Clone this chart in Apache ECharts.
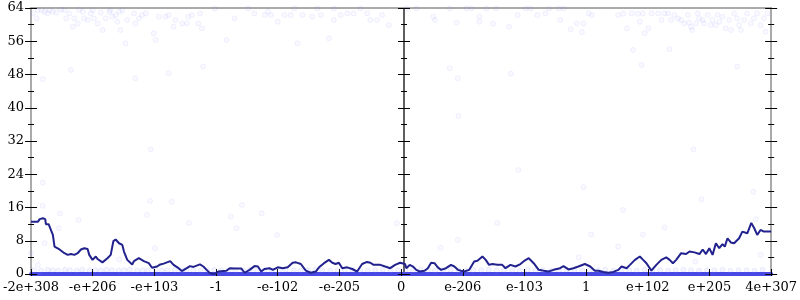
<!DOCTYPE html>
<html><head><meta charset="utf-8">
<script src="https://cdn.jsdelivr.net/npm/echarts@6/dist/echarts.min.js"></script>
<style>html,body{margin:0;padding:0;background:#fff}#c{width:800px;height:300px}</style>
</head><body><div id="c"></div>
<script>
// x positions are in tick-slot units (0..12), one unit per tick label
const tickLabels = ['-2e+308','-e+206','-e+103','-1','-e-102','-e-205','0','e-206','e-103','1','e+102','e+205','4e+307'];
const yTicks = [0,8,16,24,32,40,48,56,64];

const lineX = [0,0.113,0.140,0.166,0.193,0.230,0.241,0.285,0.317,0.354,0.381,0.462,0.542,0.595,0.648,0.703,0.756,0.809,0.864,0.917,0.944,0.997,1.050,1.078,1.158,1.239,1.292,1.335,1.372,1.427,1.480,1.507,1.560,1.641,1.668,1.748,1.829,1.909,1.962,2.043,2.096,2.151,2.257,2.311,2.392,2.445,2.525,2.578,2.633,2.739,2.794,2.847,2.900,2.976,3.035,3.169,3.222,3.302,3.410,3.463,3.544,3.624,3.679,3.732,3.785,3.865,3.920,4.000,4.081,4.161,4.242,4.295,4.375,4.455,4.536,4.616,4.670,4.750,4.830,4.885,4.938,4.991,5.046,5.126,5.207,5.287,5.368,5.448,5.501,5.528,5.554,5.662,5.742,5.823,5.903,5.984,6.064,6.085,6.140,6.193,6.246,6.300,6.381,6.434,6.487,6.542,6.595,6.648,6.728,6.809,6.863,6.921,6.970,7.024,7.105,7.185,7.238,7.319,7.372,7.426,7.480,7.560,7.640,7.693,7.774,7.854,7.935,8.010,8.070,8.150,8.231,8.311,8.392,8.472,8.578,8.633,8.713,8.794,8.874,8.980,9.067,9.141,9.200,9.281,9.361,9.442,9.522,9.575,9.656,9.711,9.791,9.871,9.924,9.978,10.058,10.138,10.219,10.299,10.354,10.407,10.460,10.541,10.621,10.676,10.756,10.837,10.890,10.943,10.997,11.050,11.104,11.158,11.211,11.248,11.292,11.345,11.399,11.480,11.533,11.613,11.678,11.726,11.774,11.827,11.882,12.0];
const lineY = [12.6,12.6,13.2,13.0,13.4,13.2,12.0,12.0,11.6,9.4,6.6,5.9,5.0,4.6,4.8,4.6,5.0,5.9,6.2,6.0,4.6,3.4,4.2,3.6,2.8,3.8,4.6,7.9,8.3,7.4,7.0,5.4,3.4,2.3,3.1,3.8,3.1,2.6,1.5,1.8,2.3,2.5,3.1,2.2,1.4,0.7,1.4,1.9,1.7,2.3,1.8,1.0,0.2,0.0,0.6,0.8,1.4,1.3,1.3,0.3,1.0,1.9,1.8,0.6,1.2,1.4,1.0,1.6,1.4,1.6,2.7,2.8,2.4,0.8,0.3,0.6,1.6,2.6,3.4,2.7,2.4,2.7,1.4,1.6,1.2,0.6,2.4,2.9,2.7,2.9,2.2,2.2,1.8,1.4,2.2,2.7,2.4,1.4,2.2,1.8,1.0,0.6,0.8,1.4,2.7,2.6,1.6,1.0,1.4,2.2,1.8,1.0,0.8,0.6,1.0,3.0,3.2,4.2,3.4,2.2,2.4,2.2,2.2,1.4,2.2,1.8,2.4,3.3,3.8,2.6,1.0,0.8,0.6,1.0,1.4,1.9,1.1,1.4,1.8,2.4,1.8,0.8,0.8,0.5,0.3,0.5,1.0,1.8,1.4,2.2,3.4,4.2,3.4,2.6,0.8,2.2,3.4,4.0,3.4,2.6,3.4,5.0,4.8,5.4,5.2,4.8,5.9,4.8,6.2,4.6,7.4,6.2,7.2,6.6,8.6,7.6,7.4,8.6,10.2,9.8,12.3,11.0,9.4,10.6,10.2,10.2];

const dotX = [0.03,0.09,0.17,0.22,0.27,0.35,0.41,0.49,0.57,0.62,0.68,0.70,0.76,0.84,0.86,0.92,0.97,1.02,1.08,1.13,1.16,1.21,1.27,1.32,1.37,1.40,1.43,1.45,1.48,1.53,1.56,1.67,1.69,1.75,1.80,1.86,1.99,2.02,2.07,2.18,2.23,2.31,2.34,2.45,2.53,2.55,2.61,2.71,2.74,2.77,2.79,3.17,3.30,3.62,3.79,3.84,3.89,4.00,4.11,4.21,4.32,4.40,4.56,4.70,4.83,4.91,5.02,5.13,5.23,5.45,5.50,5.61,5.69,5.80,
 0.11,0.30,0.54,0.78,1.00,1.29,2.98,3.52,4.27,4.64,4.91,5.34,0.65,0.19,1.69,2.23,
 6.09,6.25,6.52,6.55,6.79,6.90,7.06,7.14,7.27,7.27,7.38,7.49,7.54,7.75,7.89,8.02,8.10,8.21,8.34,8.40,8.56,8.58,8.64,8.75,8.85,8.93,8.96,9.04,9.09,9.52,9.60,9.66,9.74,9.76,9.84,9.87,9.92,9.95,10.01,10.06,10.17,10.22,10.27,10.33,10.35,10.38,10.43,10.49,10.54,10.59,10.65,10.67,10.70,10.72,10.78,10.81,10.83,10.89,10.91,10.97,11.02,11.05,11.10,11.13,11.16,11.21,11.26,11.32,11.35,11.40,11.45,11.48,11.51,11.56,11.61,11.67,11.72,11.77,11.83,11.88,11.91,11.94,
 11.45,6.79,6.92,7.78,9.90,
 0.19,0.19,0.47,0.77,0.45,0.22,0.11,0.0,1.93,2.28,1.88,2.01,1.43,2.56,3.42,3.24,3.74,3.33,3.99,5.93,
 8.96,9.60,7.56,6.92,6.64,9.08,9.92,9.52,8.88,10.27,10.87,11.71,11.75,11.83,10.77,
 1.94,6.93,7.90,10.74];
const dotY = [62.7,61.5,63.5,63.1,62.7,63.1,62.9,63.6,61.5,62.7,59.5,61.5,60.3,63.1,61.5,61.1,62.7,61.5,60.3,62.9,58.7,61.5,63.1,61.9,62.3,60.7,63.1,58.7,63.5,55.5,61.1,62.7,60.3,61.5,62.3,62.7,57.9,56.3,61.9,61.9,62.3,59.5,61.1,60.3,60.3,61.9,62.3,60.3,62.7,59.1,49.9,56.3,61.5,62.7,62.3,63.1,62.3,60.7,62.3,62.3,55.5,62.3,61.9,62.3,56.7,61.1,62.3,62.7,62.7,62.7,61.1,61.1,62.3,59.9,
 63.5,63.5,63.5,63.6,63.5,63.5,63.9,63.9,63.9,63.9,63.9,63.9,49.1,46.9,47.1,48.3,
 63.9,63.9,61.9,61.1,63.9,60.5,63.9,63.9,61.9,60.7,63.9,60.2,63.9,59.5,62.3,63.9,63.9,62.3,62.7,63.9,63.9,61.1,63.9,58.9,60.3,58.2,60.3,62.7,62.3,62.3,62.6,59.1,62.7,53.9,62.6,60.7,62.7,57.9,59.1,62.7,62.7,61.1,62.7,62.7,54.1,61.1,62.3,61.5,61.1,60.3,62.3,60.5,59.5,58.7,60.3,62.7,61.5,61.1,60.3,62.3,59.9,61.1,59.9,62.3,60.7,61.9,59.1,61.1,58.7,62.7,61.5,59.9,58.7,61.1,62.7,60.3,61.5,62.7,59.9,61.5,58.3,62.7,
 49.9,49.5,47.1,48.2,50.3,
 22.0,16.4,14.6,13.0,11.0,7.4,2.2,5.0,17.6,17.4,14.2,6.2,3.5,12.3,16.6,13.8,14.6,11.0,9.4,12.2,
 20.9,15.4,12.3,8.2,6.3,9.5,9.5,6.6,4.0,11.2,18.0,19.8,13.2,4.6,3.0,
 30.0,38.0,25.0,30.0];

const lowX = [0.05,0.16,0.27,0.35,0.44,0.55,0.63,0.74,0.83,0.95,1.04,1.13,1.22,1.31,1.42,1.51,1.60,1.72,1.81,1.90,2.02,2.12,2.21,2.33,2.44,2.52,2.63,2.75,2.86,2.97,3.08,3.20,3.31,3.44,3.55,3.66,3.78,3.90,4.02,4.13,4.26,4.37,4.49,4.61,4.72,4.85,4.97,5.09,5.21,5.34,5.46,5.58,5.70,5.83,5.95,
 6.07,6.19,6.32,6.44,6.55,6.68,6.80,6.93,7.05,7.17,7.30,7.42,7.55,7.67,7.80,7.92,8.05,8.18,8.30,8.43,8.56,8.68,8.81,8.94,9.06,9.19,9.31,9.44,9.57,9.70,9.82,9.95,10.07,10.20,10.33,10.45,10.58,10.70,10.83,10.96,11.08,11.21,11.34,11.47,11.60,11.73,11.86,11.97];
const lowY = [0.9,0.8,1.0,0.9,0.8,1.0,0.9,0.8,1.0,0.9,0.9,0.8,1.0,0.9,0.8,0.9,1.0,0.8,0.9,0.9,1.0,0.8,0.9,0.9,0.8,1.0,0.9,0.8,0.9,1.0,0.9,0.8,0.9,0.9,1.0,0.8,0.9,0.9,0.8,1.0,0.9,0.8,0.9,1.0,0.9,0.8,0.9,0.9,1.0,0.8,0.9,0.9,1.0,0.8,0.9,
 0.9,0.8,1.0,0.9,0.8,0.9,1.0,0.9,0.8,0.9,0.9,1.0,0.8,0.9,0.9,0.8,1.0,0.9,0.9,0.8,0.9,1.0,0.9,0.8,0.9,0.9,1.0,0.8,0.9,0.9,0.8,1.0,0.9,0.9,0.8,0.9,1.0,0.9,0.8,0.9,0.9,1.0,0.8,0.9,0.9,0.8,1.0];

const FONT = '"DejaVu Serif", serif';
const chart = echarts.init(document.getElementById('c'), null, {renderer:'canvas'});

function tickStyle(inside){ return {show:true, inside:inside, length:6, lineStyle:{color:'#000', width:1}}; }
function minorStyle(){ return {show:true, splitNumber:2, length:3, lineStyle:{color:'#000', width:1}}; }
function yAx(position, offset, inside, lineColor, lineWidth, withLabels){
  return {
    type:'value', min:0, max:64, interval:8, position:position, offset:offset,
    splitLine:{show:false}, minorSplitLine:{show:false},
    axisLine:{show:true, onZero:false, lineStyle:{color:lineColor, width:lineWidth}},
    axisTick: tickStyle(inside),
    minorTick: minorStyle(),
    axisLabel: withLabels ? {show:true, fontFamily:FONT, fontSize:13, color:'#000', margin:7} : {show:false}
  };
}

const yAxes = [
  yAx('left', 0, false, '#aaaaaa', 2, true),
  yAx('left', 0, true, '#aaaaaa', 2, false),
  yAx('right', 0, false, '#aaaaaa', 2, false),
  yAx('right', 0, true, '#aaaaaa', 2, false),
  yAx('left', -373, false, '#555555', 1.5, false),
  yAx('left', -373, true, '#555555', 1.5, false)
];

const dotStyle = {color:'rgba(150,150,255,0.07)', borderColor:'rgba(110,110,240,0.14)', borderWidth:0.8};

chart.setOption({
  animation:false,
  backgroundColor:'#fff',
  grid:{left:28, right:26, top:8, bottom:26, containLabel:false},
  xAxis:[
    {type:'value', position:'bottom', min:0, max:12, interval:1, splitLine:{show:false},
     axisLine:{show:true, onZero:false, lineStyle:{color:'#4848e4', width:4}},
     axisTick:{show:true, length:2, lineStyle:{color:'#000'}},
     axisLabel:{show:true, fontFamily:FONT, fontSize:13, color:'#000', margin:7,
       showMinLabel:true, showMaxLabel:true, hideOverlap:false,
       formatter:(v)=>tickLabels[Math.round(v)]}},
    {type:'value', position:'bottom', min:0, max:12, interval:1, splitLine:{show:false},
     axisLine:{show:false, onZero:false},
     axisTick:{show:true, inside:true, length:5, lineStyle:{color:'#000'}},
     axisLabel:{show:false}},
    {type:'value', position:'top', min:0, max:12, interval:1, splitLine:{show:false},
     axisLine:{show:true, onZero:false, lineStyle:{color:'#aaaaaa', width:2}},
     axisTick:{show:false}, axisLabel:{show:false}}
  ],
  yAxis: yAxes,
  series:[
    {type:'scatter', xAxisIndex:0, yAxisIndex:0, symbol:'circle', symbolSize:5, silent:true,
     itemStyle:{color:'rgba(150,150,255,0.12)', borderColor:'rgba(110,110,240,0.18)', borderWidth:0.8},
     data: lowX.map((x,i)=>[x, lowY[i]]), z:2},
    {type:'scatter', xAxisIndex:0, yAxisIndex:0, symbol:'circle', symbolSize:5, silent:true,
     itemStyle: dotStyle,
     data: dotX.map((x,i)=>[x, dotY[i]]), z:2},
    {type:'line', xAxisIndex:0, yAxisIndex:0, showSymbol:false, symbol:'none', silent:true,
     lineStyle:{color:'#22228e', width:2}, data: lineX.map((x,i)=>[x, lineY[i]]), z:5}
  ]
});
</script></body></html>
